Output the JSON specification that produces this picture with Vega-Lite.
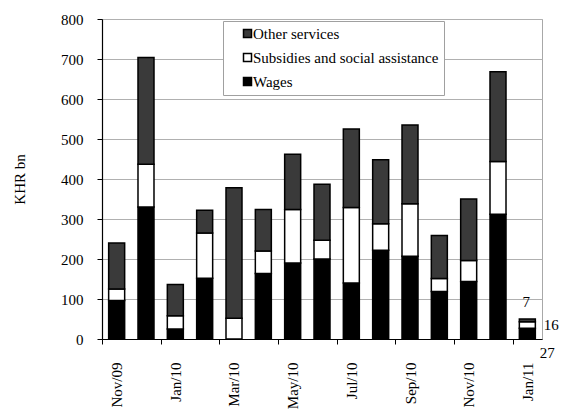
{
  "$schema": "https://vega.github.io/schema/vega-lite/v6.json",
  "width": 440,
  "height": 320,
  "autosize": "none",
  "padding": {"left": 102, "top": 19, "right": 20, "bottom": 71},
  "config": {
    "font": "Liberation Serif",
    "view": {"stroke": "#a8a8a8", "strokeWidth": 1},
    "text": {"font": "Liberation Serif"},
    "axis": {
      "labelFont": "Liberation Serif",
      "labelFontSize": 15,
      "labelColor": "black",
      "titleFont": "Liberation Serif",
      "titleFontSize": 15,
      "titleFontWeight": "normal",
      "titleColor": "black",
      "domainColor": "black",
      "domainWidth": 1.2,
      "tickColor": "black",
      "tickSize": 5
    },
    "legend": {
      "labelFont": "Liberation Serif",
      "labelFontSize": 15,
      "labelColor": "black"
    }
  },
  "data": {
    "values": [
      {"month": "Nov/09", "category": "Wages", "rank": 1, "value": 96},
      {"month": "Nov/09", "category": "Subsidies and social assistance", "rank": 2, "value": 29},
      {"month": "Nov/09", "category": "Other services", "rank": 3, "value": 115},
      {"month": "Dec/09", "category": "Wages", "rank": 1, "value": 330},
      {"month": "Dec/09", "category": "Subsidies and social assistance", "rank": 2, "value": 107},
      {"month": "Dec/09", "category": "Other services", "rank": 3, "value": 267},
      {"month": "Jan/10", "category": "Wages", "rank": 1, "value": 25},
      {"month": "Jan/10", "category": "Subsidies and social assistance", "rank": 2, "value": 33},
      {"month": "Jan/10", "category": "Other services", "rank": 3, "value": 78},
      {"month": "Feb/10", "category": "Wages", "rank": 1, "value": 152},
      {"month": "Feb/10", "category": "Subsidies and social assistance", "rank": 2, "value": 113},
      {"month": "Feb/10", "category": "Other services", "rank": 3, "value": 57},
      {"month": "Mar/10", "category": "Wages", "rank": 1, "value": 0},
      {"month": "Mar/10", "category": "Subsidies and social assistance", "rank": 2, "value": 52},
      {"month": "Mar/10", "category": "Other services", "rank": 3, "value": 326},
      {"month": "Apr/10", "category": "Wages", "rank": 1, "value": 164},
      {"month": "Apr/10", "category": "Subsidies and social assistance", "rank": 2, "value": 56},
      {"month": "Apr/10", "category": "Other services", "rank": 3, "value": 104},
      {"month": "May/10", "category": "Wages", "rank": 1, "value": 190},
      {"month": "May/10", "category": "Subsidies and social assistance", "rank": 2, "value": 134},
      {"month": "May/10", "category": "Other services", "rank": 3, "value": 138},
      {"month": "Jun/10", "category": "Wages", "rank": 1, "value": 200},
      {"month": "Jun/10", "category": "Subsidies and social assistance", "rank": 2, "value": 47},
      {"month": "Jun/10", "category": "Other services", "rank": 3, "value": 140},
      {"month": "Jul/10", "category": "Wages", "rank": 1, "value": 140},
      {"month": "Jul/10", "category": "Subsidies and social assistance", "rank": 2, "value": 189},
      {"month": "Jul/10", "category": "Other services", "rank": 3, "value": 196},
      {"month": "Aug/10", "category": "Wages", "rank": 1, "value": 222},
      {"month": "Aug/10", "category": "Subsidies and social assistance", "rank": 2, "value": 66},
      {"month": "Aug/10", "category": "Other services", "rank": 3, "value": 160},
      {"month": "Sep/10", "category": "Wages", "rank": 1, "value": 207},
      {"month": "Sep/10", "category": "Subsidies and social assistance", "rank": 2, "value": 131},
      {"month": "Sep/10", "category": "Other services", "rank": 3, "value": 197},
      {"month": "Oct/10", "category": "Wages", "rank": 1, "value": 119},
      {"month": "Oct/10", "category": "Subsidies and social assistance", "rank": 2, "value": 32},
      {"month": "Oct/10", "category": "Other services", "rank": 3, "value": 108},
      {"month": "Nov/10", "category": "Wages", "rank": 1, "value": 144},
      {"month": "Nov/10", "category": "Subsidies and social assistance", "rank": 2, "value": 52},
      {"month": "Nov/10", "category": "Other services", "rank": 3, "value": 154},
      {"month": "Dec/10", "category": "Wages", "rank": 1, "value": 312},
      {"month": "Dec/10", "category": "Subsidies and social assistance", "rank": 2, "value": 132},
      {"month": "Dec/10", "category": "Other services", "rank": 3, "value": 224},
      {"month": "Jan/11", "category": "Wages", "rank": 1, "value": 27},
      {"month": "Jan/11", "category": "Subsidies and social assistance", "rank": 2, "value": 16},
      {"month": "Jan/11", "category": "Other services", "rank": 3, "value": 7}
    ]
  },
  "encoding": {
    "x": {
      "field": "month",
      "type": "ordinal",
      "sort": null,
      "scale": {"paddingInner": 0.4545, "paddingOuter": 0.227},
      "axis": {
        "title": null,
        "values": ["Nov/09", "Jan/10", "Mar/10", "May/10", "Jul/10", "Sep/10", "Nov/10", "Jan/11"],
        "labelAngle": -90,
        "labelPadding": 18,
        "tickOffset": -14.667,
        "labelOffset": 14.667,
        "grid": false
      }
    }
  },
  "layer": [
    {
      "mark": {"type": "bar", "stroke": "black", "strokeWidth": 1.5},
      "encoding": {
        "y": {
          "field": "value",
          "type": "quantitative",
          "stack": "zero",
          "title": "KHR bn",
          "scale": {"domain": [0, 800], "nice": false},
          "axis": {
            "title": "KHR bn",
            "values": [0, 100, 200, 300, 400, 500, 600, 700, 800],
            "labelOverlap": false,
            "grid": true,
            "gridColor": "#b0b0b0",
            "gridWidth": 1,
            "labelPadding": 14,
            "titlePadding": 33
          }
        },
        "color": {
          "field": "category",
          "type": "nominal",
          "scale": {
            "domain": ["Other services", "Subsidies and social assistance", "Wages"],
            "range": ["#3a3a3a", "#ffffff", "#000000"]
          },
          "legend": {
            "title": null,
            "orient": "none",
            "legendX": 121,
            "legendY": 2,
            "direction": "vertical",
            "symbolType": "square",
            "symbolSize": 64,
            "symbolStrokeColor": "black",
            "symbolStrokeWidth": 1.5,
            "symbolOffset": 12,
            "labelOffset": -2,
            "rowPadding": 8,
            "padding": 5,
            "labelExpr": "datum.label + '\u00a0\u00a0\u00a0\u00a0\u00a0'",
            "strokeColor": "#a0a0a0",
            "fillColor": "white",
            "labelLimit": 300
          }
        },
        "order": {"field": "rank", "type": "quantitative"}
      }
    },
    {
      "transform": [
        {"stack": "value", "groupby": ["month"], "sort": [{"field": "rank", "order": "ascending"}], "as": ["v0", "v1"]},
        {"filter": "datum.month === 'Jan/11' && datum.category === 'Wages'"}
      ],
      "mark": {"type": "text", "fontSize": 15, "color": "black", "baseline": "middle", "align": "center", "dx": 20, "dy": 14},
      "encoding": {
        "y": {
          "field": "v0",
          "type": "quantitative",
          "title": "KHR bn",
          "scale": {"domain": [0, 800], "nice": false},
          "axis": {
            "title": "KHR bn",
            "values": [0, 100, 200, 300, 400, 500, 600, 700, 800],
            "labelOverlap": false,
            "grid": true,
            "gridColor": "#b0b0b0",
            "gridWidth": 1,
            "labelPadding": 14,
            "titlePadding": 33
          }
        },
        "text": {"field": "value", "type": "quantitative"}
      }
    },
    {
      "transform": [
        {"stack": "value", "groupby": ["month"], "sort": [{"field": "rank", "order": "ascending"}], "as": ["v0", "v1"]},
        {"filter": "datum.month === 'Jan/11' && datum.category === 'Subsidies and social assistance'"}
      ],
      "mark": {"type": "text", "fontSize": 15, "color": "black", "baseline": "middle", "align": "center", "dx": 24, "dy": 3},
      "encoding": {
        "y": {
          "field": "v1",
          "type": "quantitative",
          "title": "KHR bn",
          "scale": {"domain": [0, 800], "nice": false},
          "axis": {
            "title": "KHR bn",
            "values": [0, 100, 200, 300, 400, 500, 600, 700, 800],
            "labelOverlap": false,
            "grid": true,
            "gridColor": "#b0b0b0",
            "gridWidth": 1,
            "labelPadding": 14,
            "titlePadding": 33
          }
        },
        "text": {"field": "value", "type": "quantitative"}
      }
    },
    {
      "transform": [
        {"stack": "value", "groupby": ["month"], "sort": [{"field": "rank", "order": "ascending"}], "as": ["v0", "v1"]},
        {"filter": "datum.month === 'Jan/11' && datum.category === 'Other services'"}
      ],
      "mark": {"type": "text", "fontSize": 15, "color": "black", "baseline": "middle", "align": "center", "dx": -1, "dy": -17},
      "encoding": {
        "y": {
          "field": "v1",
          "type": "quantitative",
          "title": "KHR bn",
          "scale": {"domain": [0, 800], "nice": false},
          "axis": {
            "title": "KHR bn",
            "values": [0, 100, 200, 300, 400, 500, 600, 700, 800],
            "labelOverlap": false,
            "grid": true,
            "gridColor": "#b0b0b0",
            "gridWidth": 1,
            "labelPadding": 14,
            "titlePadding": 33
          }
        },
        "text": {"field": "value", "type": "quantitative"}
      }
    }
  ]
}
